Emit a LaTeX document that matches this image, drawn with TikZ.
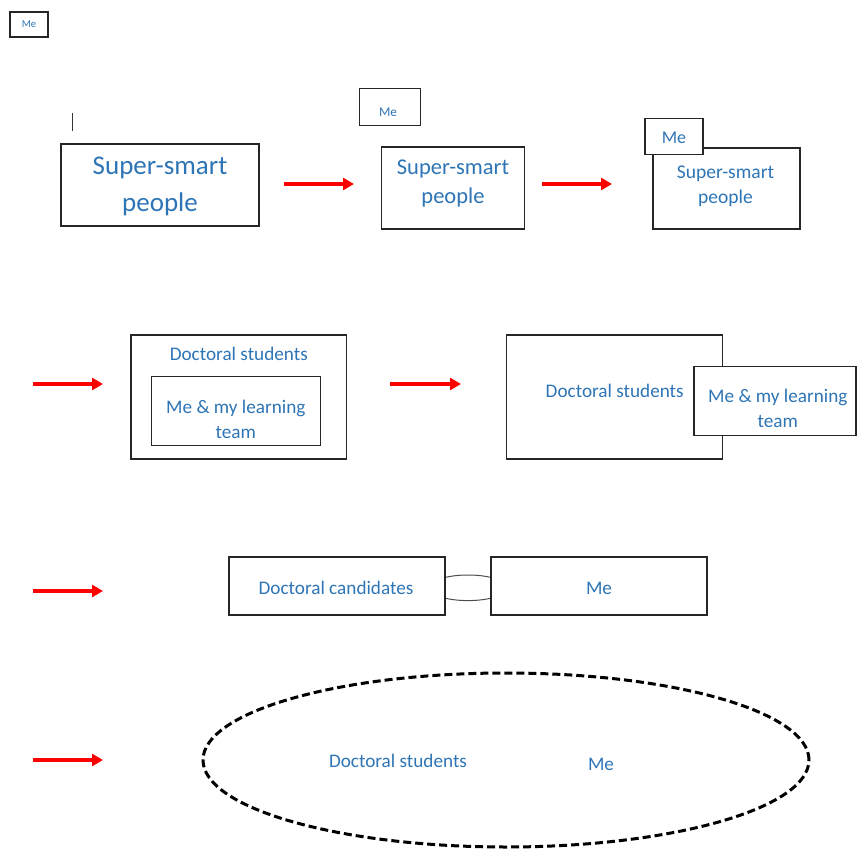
\documentclass[tikz,border=0pt]{standalone}
\usepackage{fontspec}
\setmainfont{Carlito}
\usetikzlibrary{arrows.meta,shapes.geometric}
\definecolor{txtblue}{HTML}{2E75B6}
\tikzset{
  box/.style={draw=black!85,line width=1.1pt,fill=white,inner sep=0pt},
  txt/.style={text=txtblue,align=center,inner sep=0pt},
  redarrow/.style={draw=red,line width=3.5pt,-{Triangle[length=11pt,width=12pt]}},
  linkarc/.style={draw=black!70,line width=1pt},
  cursor/.style={draw=black!80,line width=0.9pt},
  dashell/.style={ellipse,draw=black,line width=3pt,dash pattern=on 8pt off 4pt,inner sep=0pt}
}
\begin{document}
\begin{tikzpicture}[x=1pt,y=-1pt]
\useasboundingbox (0,0) rectangle (857,850);

% tiny Me box
\node[box,minimum width=38pt,minimum height=25pt] (me0) at (29,24.5) {};
\node[txt,font=\fontsize{10.6}{12}\selectfont] (me0t) at (29,24) {Me};

% cursor line
\coordinate (cur1) at (72,113);
\coordinate (cur2) at (72,131);
\draw[cursor] (cur1) -- (cur2);

% row 1
\node[box,minimum width=198pt,minimum height=82pt] (b1) at (160,185) {};
\node[txt,font=\fontsize{27}{37}\selectfont] (b1t) at (160,186.5) {Super-smart\\people};

\coordinate (a1s) at (284,184);
\coordinate (a1e) at (354,184);
\draw[redarrow] (a1s) -- (a1e);

\node[box,minimum width=61pt,minimum height=37.5pt] (me2) at (390,107) {};
\node[txt,font=\fontsize{13.3}{15}\selectfont] (me2t) at (388,112) {Me};

\node[box,minimum width=143pt,minimum height=82pt] (b2) at (453,188) {};
\node[txt,font=\fontsize{22.5}{29}\selectfont] (b2t) at (453,183.5) {Super-smart\\people};

\coordinate (a2s) at (542,184);
\coordinate (a2e) at (612,184);
\draw[redarrow] (a2s) -- (a2e);

\node[box,minimum width=147pt,minimum height=81pt] (b3) at (726.5,188.5) {};
\node[txt,font=\fontsize{19.5}{25}\selectfont] (b3t) at (725.5,186.5) {Super-smart\\people};
\node[box,minimum width=58pt,minimum height=36pt] (me3) at (674,136.3) {};
\node[txt,font=\fontsize{18}{22}\selectfont] (me3t) at (674,138) {Me};

% row 2
\coordinate (a3s) at (33,384);
\coordinate (a3e) at (103,384);
\draw[redarrow] (a3s) -- (a3e);

\node[box,minimum width=215.5pt,minimum height=124pt] (ds1) at (238.75,397) {};
\node[txt,font=\fontsize{19.2}{25}\selectfont] (ds1t) at (238.8,354) {Doctoral students};
\node[box,minimum width=169pt,minimum height=69pt] (lt1) at (236.2,411.2) {};
\node[txt,font=\fontsize{19.2}{25}\selectfont] (lt1t) at (235.8,419.5) {Me \& my learning\\team};

\coordinate (a4s) at (390,384);
\coordinate (a4e) at (461,384);
\draw[redarrow] (a4s) -- (a4e);

\node[box,minimum width=215.6pt,minimum height=124pt] (ds2) at (614.5,397) {};
\node[txt,font=\fontsize{19.2}{25}\selectfont] (ds2t) at (614.7,391) {Doctoral students};
\node[box,minimum width=162pt,minimum height=69pt] (lt2) at (775,401.2) {};
\node[txt,font=\fontsize{19.2}{25}\selectfont] (lt2t) at (777.8,408) {Me \& my learning\\team};

% row 3
\coordinate (a5s) at (33,591);
\coordinate (a5e) at (103,591);
\draw[redarrow] (a5s) -- (a5e);

\node[ellipse,linkarc,minimum width=78pt,minimum height=25.6pt,inner sep=0pt] (link) at (468,587.8) {};
\node[box,minimum width=216pt,minimum height=58pt] (dc) at (337,586) {};
\node[txt,font=\fontsize{19.2}{25}\selectfont] (dct) at (336,588) {Doctoral candidates};
\node[box,minimum width=216pt,minimum height=58pt] (me4) at (599,586) {};
\node[txt,font=\fontsize{19.2}{25}\selectfont] (me4t) at (599,588) {Me};

% row 4
\coordinate (a6s) at (33,760);
\coordinate (a6e) at (103,760);
\draw[redarrow] (a6s) -- (a6e);

\node[dashell,minimum width=606pt,minimum height=174pt] (ell) at (506,760) {};
\node[txt,font=\fontsize{19.2}{25}\selectfont] (ellds) at (398,761) {Doctoral students};
\node[txt,font=\fontsize{19.2}{25}\selectfont] (ellme) at (601,764) {Me};
\end{tikzpicture}
\end{document}
